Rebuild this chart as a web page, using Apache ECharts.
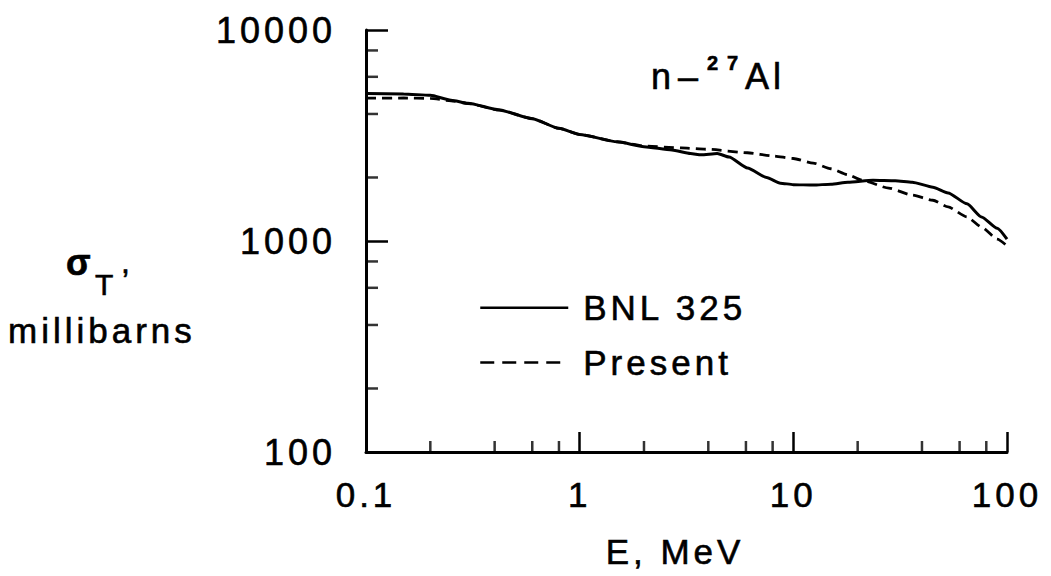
<!DOCTYPE html>
<html><head><meta charset="utf-8">
<script src="https://cdn.jsdelivr.net/npm/echarts@6/dist/echarts.min.js"></script>
<style>
html,body{margin:0;padding:0;background:#fff}
#c{width:1051px;height:576px}
#c text{letter-spacing:4px}
</style>
</head><body><div id="c"></div>
<script>
// ---- data ----
const energyBNL = [0.1,0.15,0.2,0.25,0.3,0.42,0.6,0.8,1.0,1.5,2.0,2.7,3.3,3.7,4.4,5.0,6.1,7.5,8.7,10,12.4,15,18,23.6,30,36,45,53,65,76,90,100];
const sigmaBNL  = [5000,4980,4900,4650,4500,4180,3800,3420,3200,2950,2800,2700,2600,2560,2600,2500,2220,2000,1880,1850,1840,1860,1900,1940,1930,1900,1800,1690,1500,1300,1150,1020];
const energyPresent = [0.1,0.15,0.2,0.25,0.3,0.42,0.6,0.8,1.0,1.5,2.0,3.0,4.0,6.1,8,10,12.4,15,18,21,28,36,45,53,65,76,90,103];
const sigmaPresent  = [4750,4760,4740,4620,4480,4180,3800,3420,3200,2950,2820,2760,2720,2620,2530,2460,2340,2200,2060,1940,1780,1650,1560,1450,1300,1165,1020,925];
const xTickLabels = ['0.1','1','10','100'];
const yTickLabels = ['100','1000','10000'];
const xMinorTicks = [0.2,0.4,0.6,0.8,2,4,6,8,20,40,60,80];
const yMinorTicks = [200,400,600,800,2000,4000,6000,8000];
const seriesNames = ['BNL 325','Present'];

const FONT = 'Liberation Sans';
const INK = {textBorderColor:'#000', textBorderWidth:0.6};
function pickLabel(list, v){
  for (const s of list){ if (Math.abs(Math.log10(Number(s)) - Math.log10(v)) < 1e-6) return s; }
  return '';
}
function txt(x, y, text, font, align){
  return {type:'text', x:x, y:y, silent:true,
    style:{text:text, fill:'#000', font:font, align:align||'left', verticalAlign:'middle', stroke:'#000', lineWidth:0.6}};
}
const HIDDEN_SYMBOL = {color:'rgba(0,0,0,0)', borderWidth:0, opacity:0};
const chart = echarts.init(document.getElementById('c'), null, {renderer:'svg'});
chart.setOption({
  animation:false,
  backgroundColor:'#fff',
  grid:{left:366,right:44,top:30,bottom:124},
  xAxis:{
    type:'log', logBase:10, min:0.1, max:100,
    axisLine:{lineStyle:{color:'#000',width:3}},
    axisTick:{inside:true,length:20,lineStyle:{color:'#000',width:2.5}},
    minorTick:{show:false},
    splitLine:{show:false},
    axisLabel:Object.assign({margin:25,color:'#000',fontSize:35,fontFamily:FONT,formatter:v=>pickLabel(xTickLabels,v)}, INK)
  },
  yAxis:{
    type:'log', logBase:10, min:100, max:10000,
    axisLine:{lineStyle:{color:'#000',width:3}},
    axisTick:{inside:true,length:22,lineStyle:{color:'#000',width:2.5}},
    splitLine:{show:false},
    axisLabel:Object.assign({margin:30,color:'#000',fontSize:36,fontFamily:FONT,formatter:v=>pickLabel(yTickLabels,v)}, INK)
  },
  legend:{
    orient:'vertical', left:474, top:285, itemWidth:88, itemHeight:20, itemGap:19,
    textStyle:Object.assign({color:'#000',fontSize:35,fontFamily:FONT,padding:[0,0,0,10]}, INK),
    data:[
      {name:seriesNames[0], itemStyle:HIDDEN_SYMBOL, lineStyle:{width:2.5,type:'solid'}},
      {name:seriesNames[1], itemStyle:HIDDEN_SYMBOL, lineStyle:{width:2.5,type:[14,8]}}
    ]
  },
  graphic:[
    txt(66, 262, 'σ', 'bold 36px "'+FONT+'"'),
    txt(95, 284, 'T', '30px "'+FONT+'"'),
    txt(121, 262, ',', '32px "'+FONT+'"'),
    txt(8, 330, 'millibarns', '35px "'+FONT+'"'),
    txt(651, 76, 'n', '36px "'+FONT+'"'),
    txt(678, 76, '–', '36px "'+FONT+'"'),
    txt(707, 63, '2', 'bold 20px "'+FONT+'"'),
    txt(727, 63, '7', 'bold 20px "'+FONT+'"'),
    txt(745, 76, 'Al', '36px "'+FONT+'"'),
    txt(675, 551, 'E, MeV', '35px "'+FONT+'"', 'center')
  ],
  series:[
    {name:seriesNames[0], type:'line', symbol:'none', smooth:0.2, smoothMonotone:'x', clip:false,
     itemStyle:{color:'#000'},
     lineStyle:{color:'#000',width:3,type:'solid'},
     data: energyBNL.map((e,i)=>[e,sigmaBNL[i]])},
    {name:seriesNames[1], type:'line', symbol:'none', smooth:0.2, smoothMonotone:'x', clip:false,
     itemStyle:{color:'#000'},
     lineStyle:{color:'#000',width:2.8,type:[10,6]},
     data: energyPresent.map((e,i)=>[e,sigmaPresent[i]])},
    {type:'scatter', silent:true, clip:false, z:5, symbol:'rect', symbolSize:[2.5,11], symbolOffset:[0,-5.5],
     itemStyle:{color:'#000'}, data:xMinorTicks.map(v=>[v,100])},
    {type:'scatter', silent:true, clip:false, z:5, symbol:'rect', symbolSize:[12,2.5], symbolOffset:[6,0],
     itemStyle:{color:'#000'}, data:yMinorTicks.map(v=>[0.1,v])}
  ]
});
</script>
</body></html>
